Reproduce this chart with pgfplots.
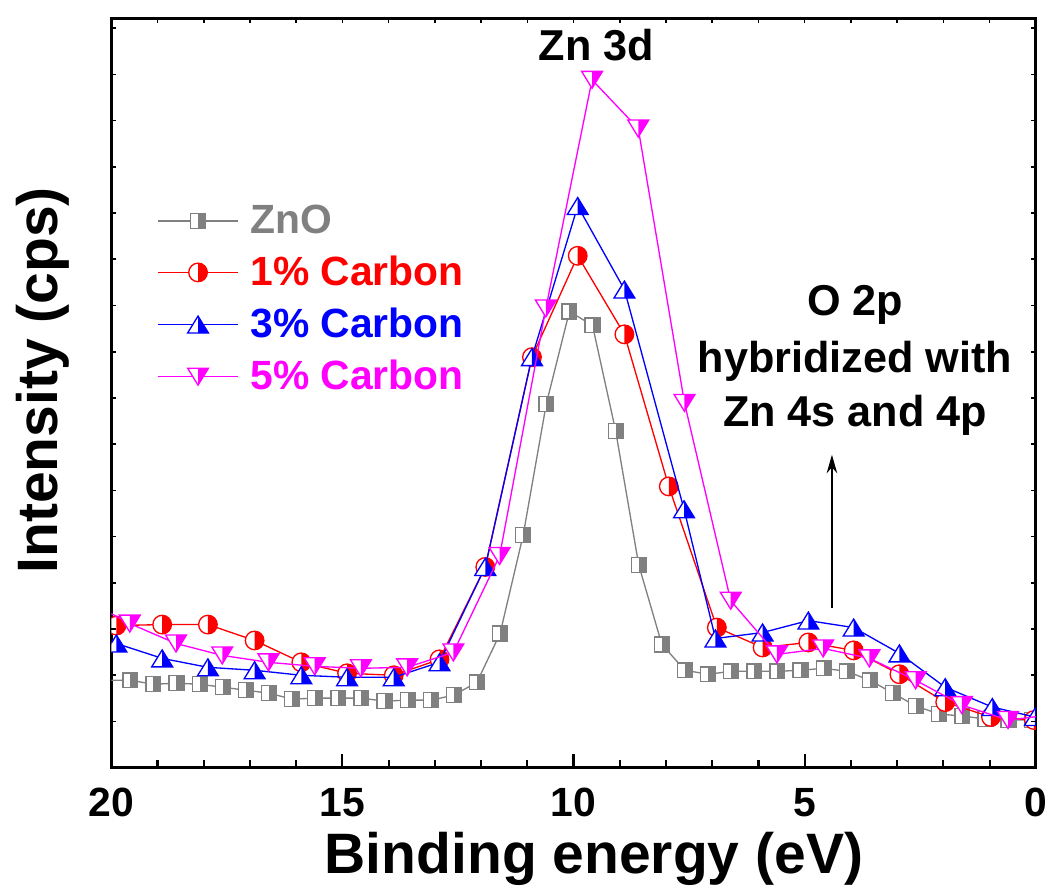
\documentclass[border=0pt]{standalone}
\usepackage{fontspec}
\setmainfont{Liberation Sans}
\usepackage{pgfplots}
\pgfplotsset{compat=1.18}
\usetikzlibrary{arrows.meta}
\definecolor{zgray}{RGB}{128,128,128}
\definecolor{zred}{RGB}{255,0,0}
\definecolor{zblue}{RGB}{0,0,255}
\definecolor{zmag}{RGB}{255,0,255}

% half-filled marks: left half white, right half in fill colour
\pgfdeclareplotmark{hsq}{%
  \begin{pgfscope}\pgfsetfillcolor{white}%
  \pgfpathrectanglecorners{\pgfpoint{-\pgfplotmarksize}{-\pgfplotmarksize}}{\pgfpoint{\pgfplotmarksize}{\pgfplotmarksize}}%
  \pgfusepathqfill\end{pgfscope}%
  \pgfpathrectanglecorners{\pgfpoint{0pt}{-\pgfplotmarksize}}{\pgfpoint{\pgfplotmarksize}{\pgfplotmarksize}}%
  \pgfusepathqfill
  \pgfpathrectanglecorners{\pgfpoint{-\pgfplotmarksize}{-\pgfplotmarksize}}{\pgfpoint{\pgfplotmarksize}{\pgfplotmarksize}}%
  \pgfusepathqstroke}
\pgfdeclareplotmark{hcirc}{%
  \begin{pgfscope}\pgfsetfillcolor{white}%
  \pgfpathcircle{\pgfpointorigin}{\pgfplotmarksize}\pgfusepathqfill\end{pgfscope}%
  \pgfpathmoveto{\pgfpoint{0pt}{\pgfplotmarksize}}%
  \pgfpatharc{90}{-90}{\pgfplotmarksize}%
  \pgfpathclose\pgfusepathqfill
  \pgfpathcircle{\pgfpointorigin}{\pgfplotmarksize}\pgfusepathqstroke}
\pgfdeclareplotmark{htriup}{%
  \begin{pgfscope}\pgfsetfillcolor{white}%
  \pgfpathmoveto{\pgfpoint{0pt}{\pgfplotmarksize}}%
  \pgfpathlineto{\pgfpoint{-1.23\pgfplotmarksize}{-\pgfplotmarksize}}%
  \pgfpathlineto{\pgfpoint{1.23\pgfplotmarksize}{-\pgfplotmarksize}}%
  \pgfpathclose\pgfusepathqfill\end{pgfscope}%
  \pgfpathmoveto{\pgfpoint{0pt}{\pgfplotmarksize}}%
  \pgfpathlineto{\pgfpoint{0pt}{-\pgfplotmarksize}}%
  \pgfpathlineto{\pgfpoint{1.23\pgfplotmarksize}{-\pgfplotmarksize}}%
  \pgfpathclose\pgfusepathqfill
  \pgfpathmoveto{\pgfpoint{0pt}{\pgfplotmarksize}}%
  \pgfpathlineto{\pgfpoint{-1.23\pgfplotmarksize}{-\pgfplotmarksize}}%
  \pgfpathlineto{\pgfpoint{1.23\pgfplotmarksize}{-\pgfplotmarksize}}%
  \pgfpathclose\pgfusepathqstroke}
\pgfdeclareplotmark{htridown}{%
  \begin{pgfscope}\pgfsetfillcolor{white}%
  \pgfpathmoveto{\pgfpoint{0pt}{-\pgfplotmarksize}}%
  \pgfpathlineto{\pgfpoint{-1.23\pgfplotmarksize}{\pgfplotmarksize}}%
  \pgfpathlineto{\pgfpoint{1.23\pgfplotmarksize}{\pgfplotmarksize}}%
  \pgfpathclose\pgfusepathqfill\end{pgfscope}%
  \pgfpathmoveto{\pgfpoint{0pt}{-\pgfplotmarksize}}%
  \pgfpathlineto{\pgfpoint{0pt}{\pgfplotmarksize}}%
  \pgfpathlineto{\pgfpoint{1.23\pgfplotmarksize}{\pgfplotmarksize}}%
  \pgfpathclose\pgfusepathqfill
  \pgfpathmoveto{\pgfpoint{0pt}{-\pgfplotmarksize}}%
  \pgfpathlineto{\pgfpoint{-1.23\pgfplotmarksize}{\pgfplotmarksize}}%
  \pgfpathlineto{\pgfpoint{1.23\pgfplotmarksize}{\pgfplotmarksize}}%
  \pgfpathclose\pgfusepathqstroke}

\newcommand\tickfont{\fontsize{15.4pt}{17pt}\selectfont\bfseries}
\newcommand\legfont{\fontsize{15.4pt}{17pt}\selectfont\bfseries}
\newcommand\labfont{\fontsize{21.5pt}{24pt}\selectfont\bfseries}
\newcommand\annfont{\fontsize{16.3pt}{18pt}\selectfont\bfseries}

\begin{document}
\begin{tikzpicture}
\begin{axis}[
  scale only axis, width=348.75pt, height=282.75pt,
  x dir=reverse, xmin=0, xmax=20, ymin=0, ymax=16.215,
  xtick={0,5,10,15,20}, minor x tick num=4, xtick pos=left,
  ytick=\empty,
  tick align=inside, major tick length=5.25pt, minor tick length=3pt,
  every tick/.style={line width=0.8pt, black},
  axis line style={line width=1.1pt},
  ticklabel style={font=\tickfont}, /pgf/number format/assume math mode=true,
  xticklabel style={anchor=base, yshift=-18.4pt},
  xlabel={Binding energy (eV)},
  xlabel style={at={(rel axis cs:0.522,-0.1406)}, anchor=base, font=\labfont, inner sep=0pt},
  ylabel={Intensity (cps)},
  ylabel style={at={(rel axis cs:-0.0452,0.517)}, anchor=south, font=\labfont, inner sep=0pt},
  clip marker paths=true,
  every axis plot/.append style={line width=0.5pt},
  legend style={at={(rel axis cs:0.0495,0.752)}, anchor=north west, draw=none, fill=none,
    inner sep=0pt, row sep=7pt, column sep=4.5pt, font=\legfont, nodes={inner sep=0pt}},
  legend cell align=left,
  legend image code/.code={\draw[mark repeat=2,mark phase=2] plot coordinates {(0pt,0pt)(15pt,0pt)(30pt,0pt)};},
]
\addplot[color=zgray, mark=hsq, mark size=2.8pt, mark options={fill=zgray}] coordinates {
(20.09,1.892)(19.59,1.892)(19.09,1.806)(18.59,1.828)(18.09,1.806)(17.59,1.742)(17.09,1.677)
(16.59,1.613)(16.09,1.484)(15.59,1.505)(15.09,1.505)(14.59,1.505)(14.09,1.441)(13.59,1.462)
(13.09,1.462)(12.59,1.570)(12.09,1.849)(11.59,2.903)(11.09,5.032)(10.59,7.871)(10.09,9.871)
(9.59,9.570)(9.09,7.290)(8.59,4.387)(8.09,2.667)(7.59,2.108)(7.09,2.022)(6.59,2.086)(6.09,2.086)
(5.59,2.086)(5.09,2.108)(4.59,2.151)(4.09,2.086)(3.59,1.892)(3.09,1.613)(2.59,1.333)(2.09,1.161)
(1.59,1.118)(1.09,1.054)(0.59,1.032)(0.09,1.032)};
\addlegendentry{\textcolor{zgray}{ZnO}}
\addplot[color=zred, mark=hcirc, mark size=3.5pt, mark options={fill=zred}] coordinates {
(19.89,3.075)(18.90,3.097)(17.91,3.097)(16.90,2.753)(15.89,2.280)(14.90,2.043)(13.89,2.000)
(12.90,2.344)(11.91,4.344)(10.90,8.882)(9.91,11.075)(8.90,9.376)(7.94,6.086)(6.90,3.032)
(5.91,2.602)(4.92,2.710)(3.94,2.538)(2.95,2.022)(1.96,1.419)(0.97,1.097)(0.04,1.032)};
\addlegendentry{\textcolor{zred}{1\% Carbon}}
\addplot[color=zblue, mark=htriup, mark size=3.2pt, mark options={fill=zblue}] coordinates {
(19.89,2.688)(18.90,2.366)(17.91,2.172)(16.90,2.108)(15.89,2.000)(14.90,1.957)(13.89,1.957)
(12.90,2.280)(11.91,4.344)(10.90,8.882)(9.91,12.151)(8.90,10.344)(7.61,5.591)(6.93,2.796)
(5.91,2.925)(4.92,3.183)(3.94,3.032)(2.95,2.473)(1.96,1.742)(0.94,1.312)(0.02,1.097)};
\addlegendentry{\textcolor{zblue}{3\% Carbon}}
\addplot[color=zmag, mark=htridown, mark size=3.2pt, mark options={fill=zmag}] coordinates {
(20.6,3.656)(19.6,3.118)(18.6,2.688)(17.6,2.430)(16.6,2.280)(15.6,2.194)(14.6,2.151)(13.6,2.172)
(12.6,2.495)(11.6,4.581)(10.6,9.935)(9.6,14.882)(8.6,13.828)(7.6,7.892)(6.6,3.613)(5.6,2.452)
(4.6,2.581)(3.6,2.366)(2.6,1.892)(1.6,1.355)(0.6,1.032)(-0.4,1.15)};
\addlegendentry{\textcolor{zmag}{5\% Carbon}}

\node[anchor=base, font=\annfont] at (axis cs:9.51,15.29) {Zn 3d};
\node[anchor=base, font=\annfont] at (axis cs:3.91,9.785) {O 2p};
\node[anchor=base, font=\annfont] at (axis cs:3.91,8.559) {hybridized with};
\node[anchor=base, font=\annfont] at (axis cs:3.91,7.376) {Zn 4s and 4p};
\draw[line width=0.55pt, -{Stealth[length=7pt,width=4pt]}] (axis cs:4.41,3.46) -- (axis cs:4.41,6.77);
\end{axis}
\begin{axis}[
  scale only axis, width=348.75pt, height=282.75pt,
  x dir=reverse, xmin=0, xmax=20, ymin=0, ymax=16.215,
  axis line style={draw=none},
  xtick={0,1,...,20}, xticklabels={}, xtick pos=right,
  ytick={1,2,...,16}, yticklabels={}, ytick pos=both,
  tick align=inside, major tick length=1.8pt,
  every tick/.style={line width=0.6pt, black},
]
\end{axis}
\path ([shift={(-42pt,-47.25pt)}]current axis.south west) rectangle ([shift={(5.25pt,5.25pt)}]current axis.north east);
\end{tikzpicture}
\end{document}
